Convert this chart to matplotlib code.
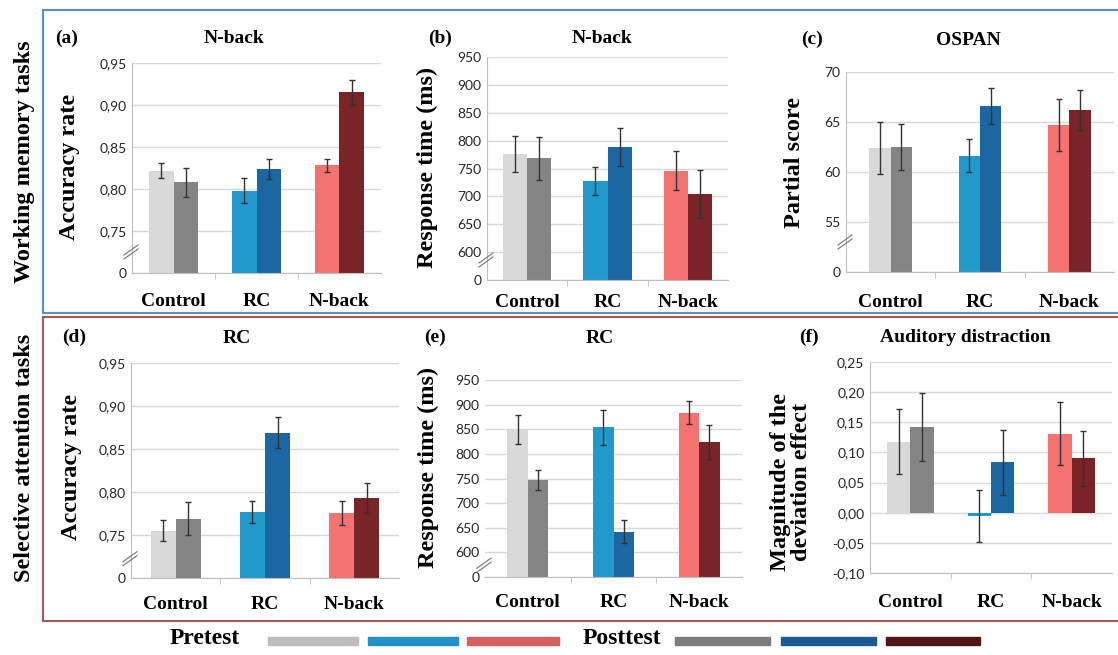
import matplotlib
matplotlib.use("Agg")
import matplotlib.pyplot as plt
from matplotlib.patches import Rectangle
from matplotlib.lines import Line2D
import numpy as np

# ---------------- data ----------------
groups = ["Control", "RC", "N-back"]

a_pre = [0.822, 0.798, 0.828]
a_pre_err = [0.009, 0.015, 0.008]
a_post = [0.808, 0.824, 0.915]
a_post_err = [0.017, 0.012, 0.015]

b_pre = [776, 727, 746]
b_pre_err = [32, 25, 35]
b_post = [768, 788, 705]
b_post_err = [39, 34, 43]

c_pre = [62.4, 61.6, 64.7]
c_pre_err = [2.6, 1.65, 2.6]
c_post = [62.5, 66.6, 66.2]
c_post_err = [2.3, 1.8, 2.0]

d_pre = [0.755, 0.777, 0.776]
d_pre_err = [0.012, 0.013, 0.014]
d_post = [0.769, 0.869, 0.793]
d_post_err = [0.019, 0.018, 0.017]

e_pre = [850, 854, 884]
e_pre_err = [29, 36, 24]
e_post = [747, 642, 824]
e_post_err = [21, 23, 34]

f_pre = [0.118, -0.005, 0.131]
f_pre_err = [0.054, 0.043, 0.052]
f_post = [0.142, 0.084, 0.090]
f_post_err = [0.056, 0.054, 0.045]

acc_ticks = [0.70, 0.75, 0.80, 0.85, 0.90, 0.95]
acc_labels = ["0", "0,75", "0,80", "0,85", "0,90", "0,95"]
rt_ticks = [550, 600, 650, 700, 750, 800, 850, 900, 950]
rt_labels = ["0", "600", "650", "700", "750", "800", "850", "900", "950"]
ospan_ticks = [50, 55, 60, 65, 70]
ospan_labels = ["0", "55", "60", "65", "70"]
dev_ticks = [-0.10, -0.05, 0.00, 0.05, 0.10, 0.15, 0.20, 0.25]
dev_labels = ["-0,10", "-0,05", "0,00", "0,05", "0,10", "0,15", "0,20", "0,25"]

pre_colors = ["#d9d9d9", "#2199cc", "#f47272"]
post_colors = ["#848484", "#1c67a1", "#7a2427"]
legend_pre_colors = ["#bdbdbd", "#2291c9", "#d65f5f"]
legend_post_colors = ["#7d7d7d", "#1b5b93", "#4f1519"]

# ---------------- figure ----------------
W, H = 1118, 655
fig = plt.figure(figsize=(W / 100, H / 100), dpi=100)
fig.patch.set_facecolor("white")

SERIF = "Liberation Serif"
SANS = "Lato"


def fx(x):
    return x / W


def fy(y):
    return 1 - y / H


def panel(x0, x1, ytop, ybot, pre, pre_err, post, post_err, ylim, ticks, labels,
          width, base, pad, break_y=None, left_spine=True):
    ax = fig.add_axes([x0 / W, 1 - ybot / H, (x1 - x0) / W, (ybot - ytop) / H])
    x = np.arange(len(groups))
    ax.bar(x - width / 2, np.array(pre) - base, bottom=base, width=width,
           color=pre_colors, zorder=2)
    ax.bar(x + width / 2, np.array(post) - base, bottom=base, width=width,
           color=post_colors, zorder=2)
    ekw = dict(fmt="none", ecolor="#333333", elinewidth=1, capsize=2,
               capthick=1, zorder=3)
    ax.errorbar(x - width / 2, pre, yerr=pre_err, **ekw)
    ax.errorbar(x + width / 2, post, yerr=post_err, **ekw)
    ax.set_xlim(-0.5, 2.5)
    ax.set_ylim(*ylim)
    ax.set_yticks(ticks)
    ax.set_yticklabels(labels, fontfamily=SANS, fontsize=10, color="#262626")
    ax.yaxis.grid(True, color="#d9d9d9", lw=1)
    ax.set_axisbelow(True)
    ax.tick_params(axis="y", length=0, pad=4)
    ax.set_xticks(x)
    ax.set_xticklabels(groups, fontfamily=SERIF, fontweight="bold",
                       fontsize=14, color="black")
    ax.tick_params(axis="x", length=0, pad=pad)
    ax.set_xticks([0.5, 1.5], minor=True)
    ax.tick_params(axis="x", which="minor", length=4, color="#bfbfbf")
    for s in ("top", "right"):
        ax.spines[s].set_visible(False)
    ax.spines["bottom"].set_color("#bfbfbf")
    ax.spines["left"].set_color("#bfbfbf")
    if not left_spine:
        ax.spines["left"].set_visible(False)
    ax.set_facecolor("none")
    if break_y is not None:
        wpx, hpx = x1 - x0, ybot - ytop
        for off in (-2, 2):
            ax.plot([-8 / wpx, 6 / wpx],
                    [break_y + (off - 5) / hpx, break_y + (off + 5) / hpx],
                    transform=ax.transAxes, clip_on=False, color="#808080",
                    lw=0.9, zorder=5)
    return ax


panel(132, 381, 63, 273, a_pre, a_pre_err, a_post, a_post_err, (0.70, 0.95),
      acc_ticks, acc_labels, 0.29, 0.70, 14.5, break_y=0.10)
panel(487, 728, 57, 280, b_pre, b_pre_err, b_post, b_post_err, (550, 950),
      rt_ticks, rt_labels, 0.30, 550, 10.0, break_y=0.09)
panel(846, 1114, 72, 272, c_pre, c_pre_err, c_post, c_post_err, (50, 70),
      ospan_ticks, ospan_labels, 0.24, 50, 16.0, break_y=0.15)
panel(131, 399, 363, 578, d_pre, d_pre_err, d_post, d_post_err, (0.70, 0.95),
      acc_ticks, acc_labels, 0.28, 0.70, 12.8, break_y=0.09)
panel(485, 742, 380, 577, e_pre, e_pre_err, e_post, e_post_err, (550, 950),
      rt_ticks, rt_labels, 0.24, 550, 12.2, break_y=0.06, left_spine=False)
panel(870, 1112, 362, 573, f_pre, f_pre_err, f_post, f_post_err, (-0.10, 0.25),
      dev_ticks, dev_labels, 0.29, 0.0, 15.2)

# ---------------- texts ----------------
tkw = dict(fontfamily=SERIF, fontweight="bold", fontsize=14, ha="center",
           va="baseline")
titles = [("(a)", 67, 43), ("N-back", 234, 43), ("(b)", 440, 43), ("N-back", 602, 43),
          ("(c)", 812, 44), ("OSPAN", 968, 45), ("(d)", 74, 342), ("RC", 237, 343),
          ("(e)", 435, 342), ("RC", 600, 343), ("(f)", 809, 342),
          ("Auditory distraction", 965, 342)]
for t, x, y in titles:
    fig.text(fx(x), fy(y), t, **tkw)

ykw = dict(fontfamily=SERIF, fontweight="bold", fontsize=17.5, ha="center",
           va="center", rotation=90)
ylabels = [("Accuracy rate", 70, 167), ("Response time (ms)", 427, 167),
           ("Partial score", 795, 163), ("Accuracy rate", 72, 467),
           ("Response time (ms)", 428, 467),
           ("Working memory tasks", 25, 162), ("Selective attention tasks", 25, 458)]
for t, x, y in ylabels:
    fig.text(fx(x), fy(y), t, **ykw)
fig.text(fx(791), fy(482), "Magnitude of the\ndeviation effect", linespacing=1.05,
         **ykw)

# ---------------- frames ----------------
blue = "#5b8fc7"
red = "#9e5a5a"
for xs, ys, c in [((43, 1118), (10, 10), blue), ((43, 43), (10, 313), blue),
                  ((43, 1118), (313, 313), blue),
                  ((43, 1118), (317, 317), red), ((43, 43), (317, 621), red),
                  ((43, 1118), (621, 621), red)]:
    fig.add_artist(Line2D([fx(xs[0]), fx(xs[1])], [fy(ys[0]), fy(ys[1])],
                          color=c, lw=1.5, transform=fig.transFigure))

# ---------------- legend ----------------
lkw = dict(fontfamily=SERIF, fontweight="bold", fontsize=17, ha="center",
           va="center")
fig.text(fx(205), fy(639), "Pretest", **lkw)
fig.text(fx(622), fy(639), "Posttest", **lkw)
for (x0, x1), c in zip([(268, 358), (368, 458), (467, 559)], legend_pre_colors):
    fig.add_artist(Rectangle((fx(x0), fy(645)), (x1 - x0) / W, 8 / H, color=c,
                             transform=fig.transFigure))
for (x0, x1), c in zip([(675, 770), (781, 876), (886, 980)], legend_post_colors):
    fig.add_artist(Rectangle((fx(x0), fy(645)), (x1 - x0) / W, 8 / H, color=c,
                             transform=fig.transFigure))

fig.savefig("out.png", dpi=100, facecolor="white")
